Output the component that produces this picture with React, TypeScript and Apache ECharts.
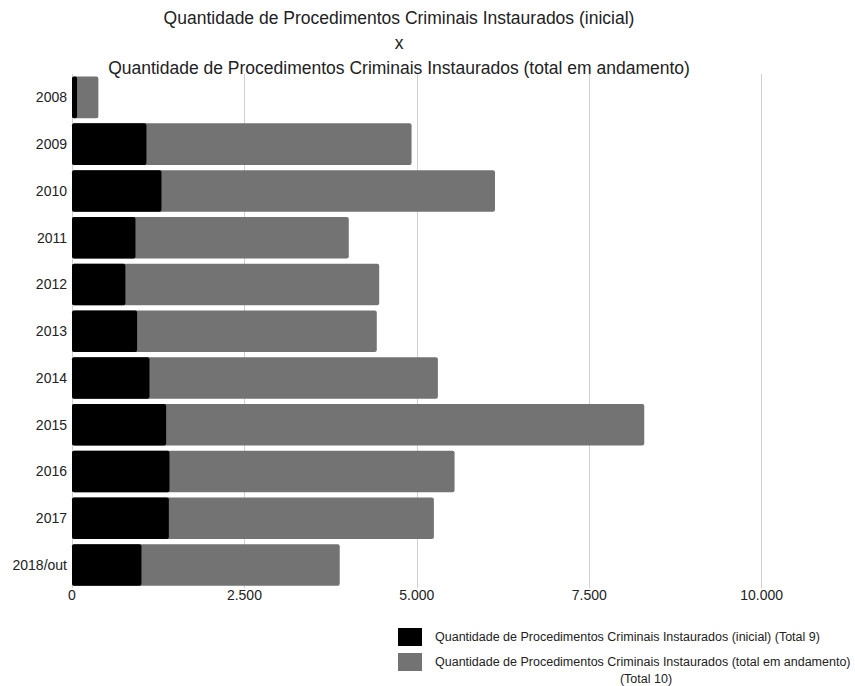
import React, { useEffect, useRef } from "react";
import * as echarts from "echarts";

const categories = ["2008", "2009", "2010", "2011", "2012", "2013", "2014", "2015", "2016", "2017", "2018/out"];
const inicial = [73, 1079, 1297, 920, 774, 944, 1123, 1365, 1413, 1404, 1007];
const totalAndamento = [382, 4923, 6133, 4013, 4454, 4419, 5305, 8297, 5547, 5247, 3882];
const titleLines = [
  "Quantidade de Procedimentos Criminais Instaurados (inicial)",
  "x",
  "Quantidade de Procedimentos Criminais Instaurados (total em andamento)",
];
const seriesNames = [
  "Quantidade de Procedimentos Criminais Instaurados (inicial) (Total 9)",
  "Quantidade de Procedimentos Criminais Instaurados (total em andamento)",
];
const legendExtra = "(Total 10)";
const xTickInterval = 2500;
const xMax = 10000;

const FONT = "'Liberation Sans', Arial, sans-serif";

export default function App() {
  const ref = useRef<HTMLDivElement>(null);
  useEffect(() => {
    if (!ref.current) return;
    const chart = echarts.init(ref.current, null, { renderer: "svg" });
    const fmt = (v: number) => String(v).replace(/\B(?=(\d{3})+(?!\d))/g, ".");
    chart.setOption({
      animation: false,
      textStyle: { fontFamily: FONT },
      grid: { left: 72, top: 74, width: 689.7, height: 514.3, containLabel: false },
      xAxis: {
        type: "value",
        min: 0,
        max: xMax,
        interval: xTickInterval,
        axisLine: { show: false },
        axisTick: { show: false },
        splitLine: { show: true, lineStyle: { color: "#d0d0d0", width: 1 } },
        axisLabel: { color: "#222", fontSize: 14, margin: 0, fontFamily: FONT, formatter: fmt },
      },
      yAxis: {
        type: "category",
        data: categories,
        inverse: true,
        axisLine: { show: false },
        axisTick: { show: false },
        splitLine: { show: false },
        axisLabel: { color: "#222", fontSize: 14, margin: 5, fontFamily: FONT },
      },
      series: [
        {
          name: seriesNames[1],
          type: "bar",
          data: totalAndamento,
          barGap: "-100%",
          barCategoryGap: "11.2%",
          itemStyle: { color: "#737373", borderRadius: 2 },
        },
        {
          name: seriesNames[0],
          type: "bar",
          data: inicial,
          barGap: "-100%",
          barCategoryGap: "11.2%",
          itemStyle: { color: "#000000", borderRadius: 2 },
        },
      ],
      graphic: [
        ...titleLines.map((t, i) => ({
          type: "text",
          x: 399,
          y: 18 + i * 25,
          style: {
            text: t,
            fill: "#222",
            font: `17.5px ${FONT}`,
            textAlign: "center",
            textVerticalAlign: "middle",
          },
        })),
        { type: "rect", shape: { x: 398, y: 628, width: 24, height: 18 }, style: { fill: "#000" } },
        {
          type: "text",
          x: 435,
          y: 637,
          style: { text: seriesNames[0], fill: "#222", font: `12.5px ${FONT}`, textVerticalAlign: "middle" },
        },
        { type: "rect", shape: { x: 398, y: 653, width: 24, height: 18 }, style: { fill: "#737373" } },
        {
          type: "text",
          x: 435,
          y: 662,
          style: { text: seriesNames[1], fill: "#222", font: `12.5px ${FONT}`, textVerticalAlign: "middle" },
        },
        {
          type: "text",
          x: 646,
          y: 679,
          style: { text: legendExtra, fill: "#222", font: `12.5px ${FONT}`, textAlign: "center", textVerticalAlign: "middle" },
        },
      ],
    });
    return () => chart.dispose();
  }, []);
  return (
    <div
      ref={ref}
      style={{ position: "fixed", left: 0, top: 0, width: 855, height: 686, background: "#fff" }}
    />
  );
}
